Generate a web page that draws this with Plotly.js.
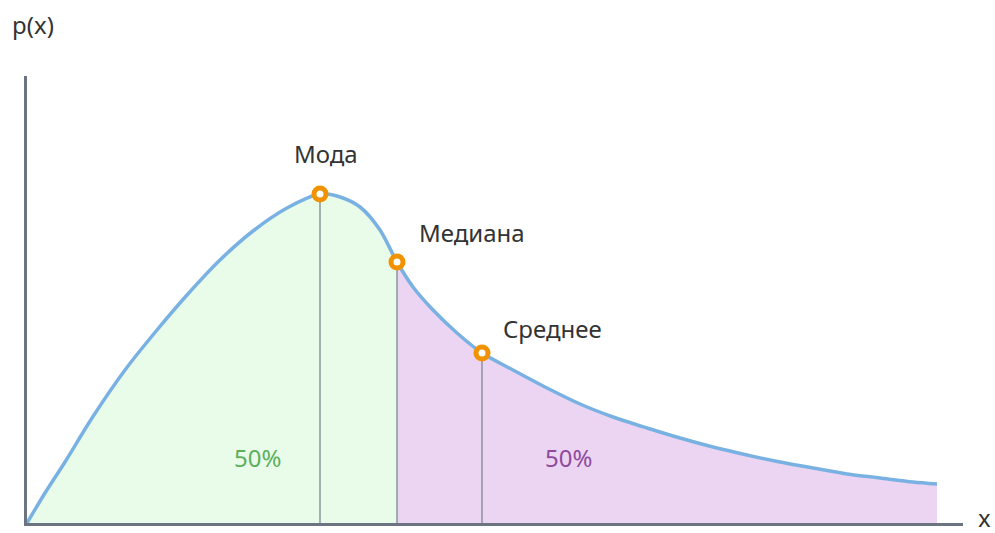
<!DOCTYPE html>
<html>
<head>
<meta charset="utf-8">
<script src="https://cdn.plot.ly/plotly-3.0.1.min.js"></script>
<style>html,body{margin:0;padding:0;background:#fff}#chart{width:995px;height:533px}</style>
</head>
<body>
<div id="chart"></div>
<script>
// Density curve
const curveX = [0, 1.8, 3.8, 6.5, 9.8, 13.0, 16.0, 19.3, 22.6, 26.0, 29.3, 31.3, 33.3, 35.3, 37.0, 38.6, 40.6, 43.0, 45.5, 48.6, 52.0, 55.3, 58.6, 62.0, 65.3, 68.6, 72.0, 75.3, 78.6, 82.0, 85.3, 88.6, 91.0];
const curveY = [0, 3.0, 6.1, 10.5, 15.3, 19.3, 22.8, 26.3, 29.2, 31.5, 32.9, 32.6, 31.6, 29.3, 26.1, 23.6, 21.3, 19.0, 17.0, 15.3, 13.5, 11.9, 10.6, 9.5, 8.5, 7.6, 6.8, 6.1, 5.5, 4.9, 4.5, 4.1, 3.9];

// Key points
const pointNames = ["Мода", "Медиана", "Среднее"];
const pointX = [29.3, 37.0, 45.5];
const pointY = [32.9, 26.1, 17.0];

const shareLabels = ["50%", "50%"];
const shareX = [23.0, 54.1];
const shareY = [6.6, 6.6];

const axisLabels = ["p(x)", "x"];

const median = pointX[1];
const leftX = [], leftY = [], rightX = [], rightY = [];
curveX.forEach((x, i) => {
  if (x <= median) { leftX.push(x); leftY.push(curveY[i]); }
  if (x >= median) { rightX.push(x); rightY.push(curveY[i]); }
});

const traces = [
  {x: leftX, y: leftY, type: 'scatter', mode: 'lines', fill: 'tozeroy',
   fillcolor: '#e9fbe9', line: {width: 0, shape: 'spline', smoothing: 0.8}, hoverinfo: 'skip'},
  {x: rightX, y: rightY, type: 'scatter', mode: 'lines', fill: 'tozeroy',
   fillcolor: '#ecd5f3', line: {width: 0, shape: 'spline', smoothing: 0.8}, hoverinfo: 'skip'}
];
pointX.forEach((x, i) => {
  traces.push({x: [x, x], y: [0, pointY[i]], type: 'scatter', mode: 'lines',
    line: {color: '#7d8891', width: 1.3}, hoverinfo: 'skip'});
});
traces.push({x: curveX, y: curveY, type: 'scatter', mode: 'lines',
  line: {color: '#79b2e2', width: 3.5, shape: 'spline', smoothing: 0.8}, hoverinfo: 'skip'});
traces.push({x: pointX, y: pointY, type: 'scatter', mode: 'markers',
  marker: {size: 12, color: '#ffffff', line: {color: '#f39200', width: 5}},
  hoverinfo: 'skip', cliponaxis: false});

const font = {family: 'Noto Sans, Open Sans, sans-serif', size: 24, color: '#333333'};
const shifts = [[6, 41, 'center'], [20, 30, 'left'], [19, 25, 'left']];
const annotations = pointNames.map((t, i) => ({
  x: pointX[i], y: pointY[i], xref: 'x', yref: 'y', text: t, showarrow: false,
  xanchor: shifts[i][2], yanchor: 'middle', xshift: shifts[i][0], yshift: shifts[i][1], font: font
}));
const shareColors = ['#5cb05c', '#8e4a9d'];
shareLabels.forEach((t, i) => annotations.push({
  x: shareX[i], y: shareY[i], xref: 'x', yref: 'y', text: t, showarrow: false,
  xanchor: 'center', yanchor: 'middle', font: Object.assign({}, font, {color: shareColors[i]})
}));
annotations.push({x: 0.0064, y: 1.115, xref: 'paper', yref: 'paper', text: axisLabels[0],
  showarrow: false, xanchor: 'center', yanchor: 'middle', font: font});
annotations.push({x: 1.0235, y: 0.0134, xref: 'paper', yref: 'paper', text: axisLabels[1],
  showarrow: false, xanchor: 'center', yanchor: 'middle', font: font, borderpad: 0});

const layout = {
  width: 995, height: 533,
  margin: {l: 27, r: 32, t: 76, b: 10, pad: 0},
  paper_bgcolor: '#ffffff', plot_bgcolor: '#ffffff',
  showlegend: false,
  xaxis: {range: [0, 93.6], showgrid: false, zeroline: false, showticklabels: false, ticks: '',
    showline: true, linecolor: '#6b7480', linewidth: 3, fixedrange: true},
  yaxis: {range: [0, 44.7], showgrid: false, zeroline: false, showticklabels: false, ticks: '',
    showline: true, linecolor: '#6b7480', linewidth: 3, fixedrange: true},
  annotations: annotations
};
Plotly.newPlot('chart', traces, layout, {displayModeBar: false, staticPlot: true});
</script>
</body>
</html>
